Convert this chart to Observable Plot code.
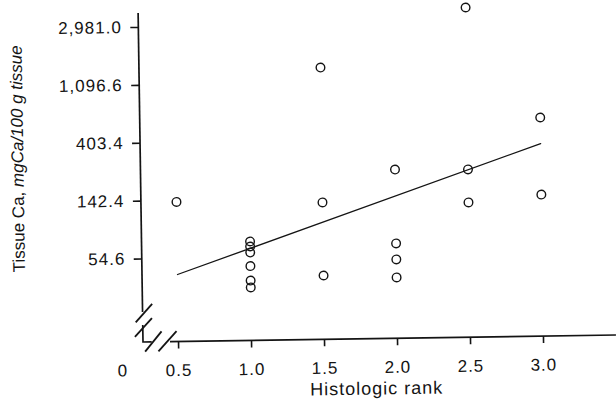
<!DOCTYPE html>
<html><head><meta charset="utf-8">
<script src="https://cdn.jsdelivr.net/npm/d3@7"></script>
<script src="https://cdn.jsdelivr.net/npm/@observablehq/plot@0.6"></script>
<style>
html,body{margin:0;padding:0;background:#fff;}
#chart svg{display:block;transform:rotate(-0.85deg);transform-origin:143px 342px;}
</style></head><body><div id="chart"></div>
<script>
// Observed points: histologic rank vs tissue calcium (mgCa/100 g tissue)
const ranks   = [0.5, 1, 1, 1, 1, 1, 1, 1.5, 1.5, 1.5, 2, 2, 2, 2, 2.5, 2.5, 2.5, 3, 3];
const calcium = [145, 71.9, 65.9, 59.4, 47.0, 36.6, 32.5, 1424, 138.5, 39.2, 240, 67.0, 50.8, 37.2, 3870, 236, 133.4, 568, 150];
// Fitted regression line end points
const fitRanks   = [0.5, 3.0];
const fitCalcium = [41.4, 362];
// Tick values and labels
const xTickValues = [0.5, 1, 1.5, 2, 2.5, 3];
const xTickLabels = ["0.5", "1.0", "1.5", "2.0", "2.5", "3.0"];
const yTickValues = [54.6, 148.4, 403.4, 1096.6, 2981.0];
const yTickLabels = ["54.6", "142.4", "403.4", "1,096.6", "2,981.0"];
const xBreakLabel = "0";
const xTitle = "Histologic rank";
const yTitleRoman = "Tissue Ca, ";
const yTitleItalic = "mgCa/100 g tissue";

const W = 616, H = 406, mL = 143, mB = 64;
const ink = "#141414";
const points = ranks.map((r, i) => ({rank: r, ca: calcium[i]}));
const fit = fitRanks.map((r, i) => ({rank: r, ca: fitCalcium[i]}));
const yTicks = yTickValues.map((v, i) => ({v, label: yTickLabels[i]}));

const plot = Plot.plot({
  width: W, height: H,
  marginLeft: mL, marginRight: 0, marginTop: 0, marginBottom: mB,
  style: {fontFamily: "'Liberation Sans', Arial, sans-serif", fontSize: "17px", color: ink, background: "#fff", overflow: "visible", letterSpacing: "1px"},
  x: {domain: [0.26, 3.5]},
  y: {type: "log", domain: [Math.exp(2.558), Math.exp(8.465)], axis: null},
  marks: [
    Plot.axisX({ticks: xTickValues, tickFormat: d => xTickLabels[xTickValues.findIndex(v => Math.abs(v - d) < 1e-6)], tickSize: 7, tickPadding: 15, strokeWidth: 1.6, label: null}),
    Plot.tickY(yTicks, {y: "v", insetRight: W - mL - 8, dx: -8, stroke: ink, strokeWidth: 1.6}),
    Plot.text(yTicks, {y: "v", text: "label", frameAnchor: "left", dx: -17, textAnchor: "end", fill: ink, fontSize: 17}),
    Plot.line(fit, {x: "rank", y: "ca", stroke: ink, strokeWidth: 1.3}),
    Plot.dot(points, {x: "rank", y: "ca", r: 4.3, stroke: ink, strokeWidth: 1.4, fill: "none"})
  ]
});

const svg = d3.select(plot);
const cx = mL, cy = H - mB; // axis corner
const deco = svg.append("g").attr("stroke", ink).attr("fill", "none").attr("stroke-linecap", "butt");
// y axis line with break
deco.append("path").attr("stroke-width", 1.7).attr("d", `M${cx},13V${cy - 30}`);
deco.append("path").attr("stroke-width", 1.8).attr("d", `M${cx - 7},${cy - 19.7}L${cx + 9.7},${cy - 38}`);
deco.append("path").attr("stroke-width", 1.8).attr("d", `M${cx - 8},${cy - 5.3}L${cx + 9.3},${cy - 23.7}`);
deco.append("path").attr("stroke-width", 1.7).attr("d", `M${cx},${cy - 17}V${cy}H${cx + 8.7}`);
// x axis line with break
deco.append("path").attr("stroke-width", 1.8).attr("d", `M${cx + 2},${cy + 9.7}L${cx + 18.7},${cy - 10.3}`);
deco.append("path").attr("stroke-width", 1.8).attr("d", `M${cx + 15.3},${cy + 9.7}L${cx + 33.7},${cy - 10.3}`);
deco.append("path").attr("stroke-width", 1.7).attr("d", `M${cx + 27},${cy}H${W}`);
// "0" label at the break
svg.append("text").attr("x", cx - 20.4).attr("y", cy + 22).attr("dy", "0.71em")
  .attr("text-anchor", "middle").attr("fill", ink).attr("font-size", 17).text(xBreakLabel);
// axis titles
svg.append("text").attr("x", 376).attr("y", 398).attr("text-anchor", "middle")
  .attr("fill", ink).attr("font-size", 18).attr("letter-spacing", "1px").text(xTitle);
const yt = svg.append("text").attr("transform", "translate(26,157) rotate(-90)")
  .attr("text-anchor", "middle").attr("fill", ink).attr("font-size", 17).attr("letter-spacing", "0px");
yt.append("tspan").text(yTitleRoman);
yt.append("tspan").attr("font-style", "italic").text(yTitleItalic);

document.getElementById("chart").appendChild(plot);
</script>
</body></html>
